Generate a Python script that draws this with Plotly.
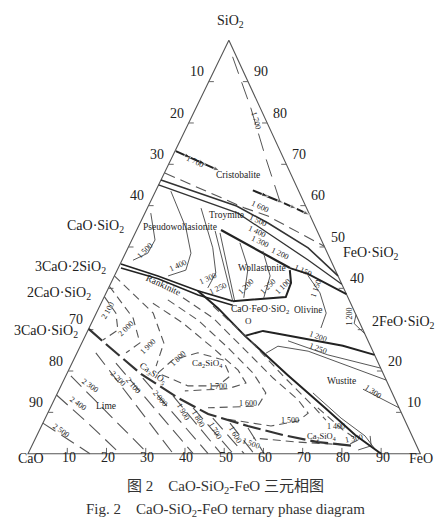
import plotly.graph_objects as go

W, H = 445, 522
K = 0.512          # horizontal skew of the SiO2 apex
SERIF = "Liberation Serif"
CJK = "Liberation Serif, Noto Sans CJK SC"

# ---------------- data: compositions (SiO2, CaO, FeO) in wt% ----------------
ticks = [10, 20, 30, 40, 50, 60, 70, 80, 90]
left_tick_labels = ["10", "20", "30", "40", "", "", "70", "80", "90"]      # CaO
right_tick_labels = ["10", "20", "", "40", "50", "60", "70", "80", "90"]  # SiO2
bottom_tick_labels = ["10", "20", "30", "40", "50", "60", "70", "80", "90"]  # FeO

outline = [(100, 0, 0), (0, 100, 0), (0, 0, 100), (100, 0, 0)]

immisc_left = [(73.2, 26.6, 0.2), (71.6, 23.5, 4.9), (70.0, 20.6, 9.4), (68.4, 17.7, 13.9)]
immisc_right = [(63.7, 11.6, 24.7), (62.2, 8.4, 29.4), (60.6, 5.2, 34.2), (59.2, 2.6, 38.2), (57.7, 0, 42.3)]
iso1700_top = [(96, 1, 3), (83.6, 2.4, 14), (71.5, 4.5, 24), (64.3, 5.4, 30.3), (61.1, 6, 32.9)]
iso1600_dash = [(67.9, 32, 0.1), (59.4, 15.7, 24.9), (57.5, 10.8, 31.7), (50.2, 0, 49.8)]
bound_A = [(66.2, 33.8, 0), (59.9, 17.6, 22.5), (55.8, 11.6, 32.6), (49.8, 4.3, 45.9), (43, 0, 57)]
bound_B = [(65, 35, 0), (58.2, 18.1, 23.7), (52.7, 12.1, 35.2), (46.9, 5.8, 47.3), (41, 0, 59)]
bound_C = [(54.1, 24.4, 21.5), (44.9, 11.3, 43.8)]
bound_D = [(44.9, 11.3, 43.8), (43.5, 7.4, 49.1), (38.6, 0, 61.4)]

pw1500 = [(58.2, 40.3, 1.5), (51.7, 42.4, 5.9), (48.5, 45.8, 5.7), (46.8, 50.4, 2.8)]
pw1400 = [(63.5, 32.6, 3.9), (54.6, 33.1, 12.3), (48.5, 34.8, 16.7), (44.4, 38.1, 17.5), (43, 43.3, 13.7)]
pw1300 = [(59.4, 26.9, 13.7), (49.8, 28.6, 21.6), (43.7, 30.8, 25.5), (40.1, 34.6, 25.3)]
pw_wo1 = [(53.9, 26, 20.1), (36.9, 29.8, 33.3)]
pw_wo2 = [(53.4, 25, 21.6), (36.9, 29.3, 33.8)]

rank_1 = [(45.9, 53.9, 0.2), (43, 45.9, 11.1), (39.4, 37.5, 23.1), (36.9, 29.8, 33.3)]
rank_2 = [(44.9, 54.4, 0.7), (42.3, 46.2, 11.5), (38.4, 37.9, 23.7), (35.9, 30.3, 33.8)]
wo_bound = [(36.9, 29.8, 33.3), (37.4, 23.1, 39.5), (37.9, 15.8, 46.3), (41.3, 12.8, 45.9), (44.4, 11.6, 44)]
c2s_bound = [(39.4, 37.5, 23.1), (35.2, 34.4, 30.4), (28.5, 30.8, 40.7), (19, 24.5, 56.5),
             (11.1, 18.9, 70), (4.5, 14.4, 81.1), (0, 10, 90)]
olivine_bound = [(28.5, 30.8, 40.7), (29.7, 25.6, 44.7), (29, 22.1, 48.9), (26.1, 7, 66.9), (23.9, 0, 76.1)]

wo1200 = [(51, 21.1, 27.9), (44.9, 22, 33.1), (37.7, 26.6, 35.7)]
wo1250 = [(49, 16.2, 34.8), (43, 17.3, 39.7), (37.7, 21.5, 40.8)]
ol1150 = [(43, 7.6, 49.4), (38.9, 6.6, 54.5), (34, 7.4, 58.6), (30.4, 10.5, 59.1)]
edge1200 = [(33.6, 0, 66.4), (31.5, 1.5, 67), (29, 0, 71)]
ol1200 = [(27.3, 20.4, 52.3), (23.9, 11.9, 64.2), (20.7, 0, 79.3)]
ol1250 = [(24.3, 27.5, 48.2), (26, 23.6, 50.4), (24.8, 16.5, 58.7), (21.2, 8.1, 70.7), (17.8, 0, 82.2)]
wu1300 = [(15.6, 7, 77.4), (11.1, 0, 88.9)]
wu1400 = [(14.7, 20.2, 65.1), (8.6, 16, 75.4), (4.3, 12, 83.7), (1.4, 11.1, 87.5)]
wu1300_low = [(4.3, 10.7, 85), (1.9, 11.6, 86.5), (0.9, 15.4, 83.7)]

c2s_2100 = [(38, 62, 0), (34, 61, 5), (29.9, 62.5, 7.6), (27.5, 67.5, 5)]
c2s_2000 = [(40.5, 59.5, 0), (32.8, 57.2, 10), (26.8, 58.4, 14.8), (24.4, 63.1, 12.5)]
c2s_1900 = [(43, 57, 0), (34, 51.5, 14.5), (26.8, 52.3, 20.9), (21.2, 57, 21.8)]
c2s_1800 = [(19.5, 57.4, 23.1), (22.7, 52, 25.3), (24.4, 44.8, 30.8), (22.7, 39.2, 38.1),
            (18.8, 39.3, 41.9), (16.4, 43.6, 40), (16.4, 51.2, 32.4), (19.5, 57.4, 23.1)]
c2s_1700 = [(36.4, 50.4, 13.2), (31.6, 45.1, 23.3), (25.6, 40.4, 34), (20.2, 36.6, 43.2),
            (17.1, 36.1, 46.8), (15.7, 41.4, 42.9), (15.2, 52.6, 32.2)]
c2s_1600 = [(37.2, 46.2, 16.6), (32.3, 40.9, 26.8), (25.6, 36.5, 37.9), (19.5, 33.1, 47.4),
            (14.7, 32.2, 53.1), (11.5, 35.8, 52.7), (11.1, 48.7, 40.2)]
c2s_1500 = [(37.7, 42.1, 20.2), (32.8, 36.8, 30.4), (25.6, 32.7, 41.7), (18.3, 28.6, 53.1),
            (13, 24.8, 62.2), (9.8, 23.8, 66.4), (7.9, 27.3, 64.8), (6.7, 34.8, 58.5), (8.6, 46.6, 44.8)]
c2s_1450 = [(35.7, 35.4, 28.9), (28, 30.3, 41.7), (18.8, 25.8, 55.4), (11.5, 21.7, 66.8), (8.1, 20.1, 71.8)]
c2s_1400 = [(11.1, 20.7, 68.2), (5.7, 16.9, 77.4), (3.3, 14.3, 82.4), (2.1, 17.4, 80.5),
            (2.8, 29.8, 67.4), (3.8, 40.8, 55.4)]
c3s_bound = [(30.2, 69.8, 0), (26.1, 66.9, 7), (19.3, 61.8, 18.9), (13.5, 55.2, 31.3), (9.6, 49.4, 41),
             (6.7, 40.7, 52.6), (4.5, 32.8, 62.7), (2.8, 24.7, 72.5), (1.9, 16.2, 81.9)]

lime_isotherms = {
    "2500": [(7.4, 92.6, 0), (0, 84.2, 15.8)],
    "2400": [(14.2, 85.8, 0), (7.4, 81.1, 11.5), (0, 76.5, 23.5)],
    "2300": [(18.8, 79.9, 1.3), (0, 69.4, 30.6)],
    "2200": [(24.4, 70.8, 4.8), (0, 63, 37)],
    "2100": [(21.9, 66.9, 11.2), (0, 57.9, 42.1)],
    "2000": [(18.3, 61.8, 19.9), (0, 54.1, 45.9)],
    "1900": [(14, 56.2, 29.8), (0, 50.8, 49.2)],
    "1800": [(11.1, 52.5, 36.4), (0, 47.7, 52.3)],
    "1700": [(8.6, 48.7, 42.7), (0, 44.9, 55.1)],
    "1600": [(7.4, 44.9, 47.7), (0, 42.4, 57.6)],
    "1500": [(6.2, 40.9, 52.9), (0, 39.8, 60.2)],
}

# ---------------- helpers ----------------
def proj(pts):
    xs, ys = [], []
    for p in pts:
        if p is None:
            xs.append(None); ys.append(None); continue
        a, b, c = p
        s = a + b + c
        a, c = a * 100 / s, c * 100 / s
        xs.append(c + K * a)
        ys.append(a)
    return xs, ys

fig = go.Figure()

def add(pts, width=1.0, color="#444", dash="solid", **kw):
    x, y = proj(pts)
    fig.add_trace(go.Scatter(x=x, y=y, mode="lines", line=dict(width=width, color=color, dash=dash),
                             hoverinfo="skip", showlegend=False, **kw))

add(outline, 1.1, "#555")
tick_pts = []
for v in ticks:
    tick_pts += [(0, 100 - v, v), (1.4, 100 - v - 0.7, v - 0.7), None]
    tick_pts += [(100 - v, v, 0), (100 - v, v - 1.3, 1.3), None]
    tick_pts += [(v, 0, 100 - v), (v, 1.3, 100 - v - 1.3), None]
add(tick_pts, 1.0, "#666")

for seg in (immisc_left, immisc_right):
    x, y = proj(seg)
    fig.add_trace(go.Scatter(x=x, y=y, mode="lines+markers", hoverinfo="skip", showlegend=False,
                             line=dict(width=2, color="#222"),
                             marker=dict(symbol="arrow", angleref="previous", size=[0] + [7] * (len(seg) - 1),
                                         color="#222")))

DSH = "8px,5px"
LDSH = "15px,7px"
add(iso1700_top, 1.0, "#555", "18px,9px")
add(iso1600_dash, 1.1, "#555", "11px,6px")
add(bound_A, 1.6, "#333")
add(bound_B, 1.3, "#333")
add(bound_C, 2.2, "#222")
add(bound_D, 1.8, "#222")

for pts in (pw1500, pw1400, pw1300, wo1200, wo1250, ol1150, edge1200, ol1200, ol1250, wu1300, wu1400, wu1300_low):
    add(pts, 0.9, "#444")
add(pw_wo1, 0.9, "#444")
add(pw_wo2, 0.9, "#444")

add(rank_1, 1.6, "#222")
add(rank_2, 1.6, "#222")
add(wo_bound, 2.0, "#222")
add(c2s_bound, 2.0, "#222")
add(olivine_bound, 2.0, "#222")

for pts in (c2s_2100, c2s_2000, c2s_1900, c2s_1800, c2s_1700, c2s_1600, c2s_1500, c2s_1450, c2s_1400):
    add(pts, 1.1, "#555", DSH)
add(c3s_bound, 2.2, "#333", "18px,5px")
for name, pts in lime_isotherms.items():
    add(pts, 1.1, "#555", LDSH)

# ---------------- text ----------------
def label(text, px, py, size=8, angle=0, xanchor="center", color="#222", family=SERIF):
    py2 = py - 0.55 * size       # annotation text renders below its box centre; compensate
    fig.add_annotation(x=px / W, y=1 - py2 / H, xref="paper", yref="paper", text=text, showarrow=False,
                       textangle=angle, xanchor=xanchor, yanchor="middle",
                       font=dict(size=size, family=family, color=color))

TK = 14
for v, t in zip(ticks, left_tick_labels):
    if t:
        x, y = proj([(100 - v, v, 0)])
        fig.add_annotation(x=x[0], y=y[0], text=t, showarrow=False, xanchor="right", yanchor="middle",
                           xshift=-3, yshift=2 + 0.55 * TK, font=dict(size=TK, family=SERIF, color="#222"))
for v, t in zip(ticks, right_tick_labels):
    if t:
        x, y = proj([(v, 0, 100 - v)])
        fig.add_annotation(x=x[0], y=y[0], text=t, showarrow=False, xanchor="left", yanchor="middle",
                           xshift=4, yshift=2 + 0.55 * TK, font=dict(size=TK, family=SERIF, color="#222"))
for v, t in zip(ticks, bottom_tick_labels):
    x, y = proj([(0, 100 - v, v)])
    fig.add_annotation(x=x[0], y=y[0], text=t, showarrow=False, xanchor="center", yanchor="middle",
                       xshift=1.5, yshift=-11.5 + 0.55 * TK, font=dict(size=TK, family=SERIF, color="#222"))

label("SiO<sub>2</sub>", 222, 21, 14)
label("CaO", 23, 458, 14)
label("FeO", 413, 458, 14)

label("CaO·SiO<sub>2</sub>", 118, 226, 14, xanchor="right")
label("3CaO·2SiO<sub>2</sub>", 100, 267, 14, xanchor="right")
label("2CaO·SiO<sub>2</sub>", 85, 293, 14, xanchor="right")
label("3CaO·SiO<sub>2</sub>", 72, 331, 14, xanchor="right")
label("FeO·SiO<sub>2</sub>", 333, 253, 14, xanchor="left")
label("2FeO·SiO<sub>2</sub>", 362, 322, 14, xanchor="left")

label("Cristobalite", 230, 172, 9.5)
label("Troymite", 218, 212, 9.5)
label("Pseudowollasionite", 172, 224, 9.5)
label("Wollastonite", 254, 265, 9.5)
label("CaO·FeO·SiO<sub>2</sub>", 252, 307, 9.5)
label("Olivine", 300, 307, 9.5)
label("O", 240, 318, 9)
label("Rankinite", 155, 282, 9.5, 25)
label("Ca<sub>3</sub>SiO<sub>5</sub>", 145, 370, 9, 35)
label("Ca<sub>2</sub>SiO<sub>4</sub>", 199, 360, 9)
label("Lime", 98, 403, 9.5)
label("Wustite", 333, 378, 9.5)
label("Ca<sub>2</sub>SiO<sub>4</sub>", 313, 433, 8.5)

iso_labels = [
    ("1 700", 248, 117, 75), ("1 700", 187, 158, 25), ("1 600", 252, 203, 25), ("1 500", 250, 217, 25),
    ("1 400", 249, 228, 25), ("1 300", 252, 238, 25), ("1 200", 272, 250, 25), ("1 150", 295, 267, 25),
    ("1 500", 137, 247, -45), ("1 400", 170, 262, -25), ("1 300", 200, 275, -25), ("1 250", 210, 285, -25),
    ("1 200", 238, 283, -45), ("1 250", 260, 283, -45), ("1 100", 275, 283, -45), ("1 150", 308, 285, -70),
    ("1 200", 342, 313, -90), ("1 200", 310, 333, 20), ("1 250", 310, 345, 20), ("1 300", 365, 388, 35),
    ("1 400", 328, 423, 0), ("1 300", 346, 435, -10), ("1 500", 282, 417, 0), ("1 600", 240, 400, 0),
    ("1 700", 210, 383, 0), ("1 800", 170, 355, -45), ("1 900", 140, 343, -45), ("2 000", 118, 325, -45),
    ("2 100", 100, 307, -60), ("2 100", 125, 382, 50), ("2 200", 110, 375, 45), ("2 300", 82, 382, 35),
    ("2 400", 70, 400, 35), ("2 500", 53, 427, 35), ("2 000", 152, 395, 50), ("1 900", 175, 408, 60),
    ("1 800", 190, 415, 60), ("1 700", 207, 427, 60), ("1 600", 227, 431, 60), ("1 500", 243, 440, 20),
]
for t, px, py, ang in iso_labels:
    label(t, px, py, 8, ang)

label("图 2　CaO-SiO<sub>2</sub>-FeO 三元相图", 217, 487, 15, color="#333", family=CJK)
label("Fig. 2　CaO-SiO<sub>2</sub>-FeO ternary phase diagram", 217, 510, 15, color="#333")

fig.update_layout(
    width=W, height=H, margin=dict(l=0, r=0, t=0, b=0),
    paper_bgcolor="white", plot_bgcolor="white", showlegend=False,
    xaxis=dict(range=[-5.098, 108.33], visible=False, fixedrange=True),
    yaxis=dict(range=[-18.46, 107.81], visible=False, fixedrange=True),
)
fig.write_html("out.html")
